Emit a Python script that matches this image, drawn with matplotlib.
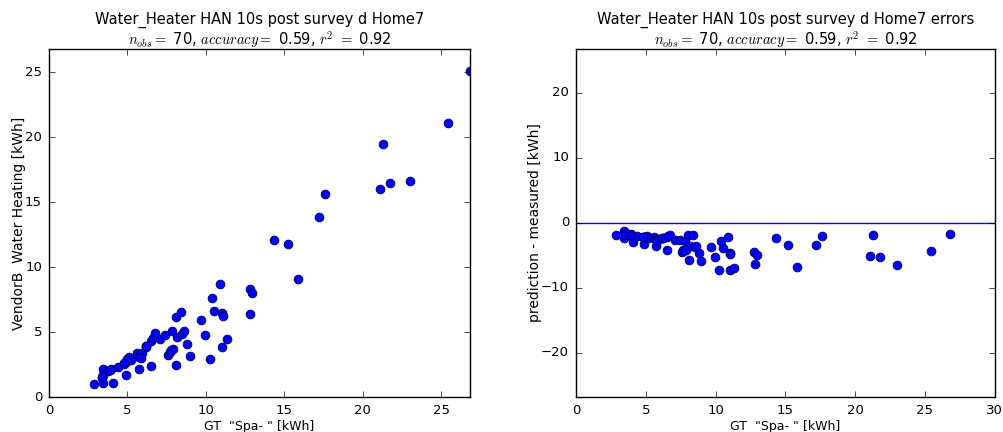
import matplotlib

matplotlib.use("Agg")
import matplotlib.pyplot as plt
import numpy as np

# ground truth vs vendor estimate, kWh per day
gt = [2.88, 3.41, 3.35, 3.46, 3.41, 3.88, 3.96, 3.77, 4.05, 4.37,
      4.77, 4.90, 5.07, 5.20, 4.90, 5.58, 5.71, 5.71, 5.90, 5.83,
      6.17, 6.20, 6.53, 6.60, 6.76, 6.53, 7.06, 7.42, 7.61, 7.70,
      7.87, 7.82, 8.06, 8.38, 8.14, 8.50, 8.60, 8.12, 8.80, 8.99,
      9.69, 9.97, 10.24, 10.37, 10.52, 10.88, 11.00, 11.07, 11.00, 11.32,
      12.79, 12.94, 12.80, 14.33, 15.20, 15.86, 17.22, 17.60, 21.10, 21.30,
      21.75, 23.03, 25.45, 26.80, 3.40, 3.90, 5.00, 6.20, 4.80, 7.80]
pred = [1.00, 2.15, 1.50, 1.67, 1.10, 2.08, 2.18, 2.00, 1.10, 2.33,
        2.54, 2.72, 3.05, 2.85, 1.72, 3.41, 3.05, 2.13, 3.36, 2.97,
        3.92, 3.85, 4.33, 4.56, 4.95, 2.38, 4.49, 4.77, 3.20, 3.49,
        3.67, 5.05, 6.18, 6.54, 4.64, 4.85, 5.08, 2.44, 4.10, 3.15,
        5.95, 4.77, 2.95, 7.64, 6.64, 8.69, 6.44, 6.23, 3.82, 4.44,
        8.33, 7.97, 6.41, 12.08, 11.74, 9.08, 13.85, 15.59, 16.00, 19.45,
        16.46, 16.60, 21.10, 25.10, 1.55, 2.10, 2.90, 3.90, 2.60, 3.60]

title = "Water_Heater HAN 10s post survey d Home7"
stats = r"$n_{obs}=$ 70, $accuracy=$ 0.59, $r^2$ $=$ 0.92"
xlab = 'GT  "Spa- " [kWh]'

plt.style.use("classic")
plt.rcParams["font.family"] = ["DejaVu Sans"]
plt.rcParams["font.size"] = 9.5

gt = np.array(gt)
pred = np.array(pred)
err = pred - gt
lim = max(gt.max(), pred.max())

fig = plt.figure(figsize=(10.04, 4.32), dpi=100, facecolor="white")
ax1 = fig.add_axes([0.0488, 0.081, 0.419, 0.806])
ax2 = fig.add_axes([0.5737, 0.081, 0.417, 0.806])

ax1.plot(gt, pred, "o", color="b", mec="#00005a", mew=0.6, ms=6.3)
ax1.set_xlim(0, lim)
ax1.set_ylim(0, lim)
ax1.set_xticks(range(0, 26, 5))
ax1.set_yticks(range(0, 26, 5))
ax1.set_xlabel(xlab, fontsize=9, labelpad=2)
ax1.set_ylabel("VendorB  Water Heating [kWh]", fontsize=10, labelpad=-1)
ax1.set_title(title + "\n" + stats, fontsize=10.5, pad=3, linespacing=1.1)

ax2.plot(gt, err, "o", color="b", mec="#00005a", mew=0.6, ms=6.3)
ax2.axhline(0, color="b", lw=1)
ax2.set_xlim(0, 30)
ax2.set_ylim(-lim, lim)
ax2.set_xticks(range(0, 31, 5))
ax2.set_yticks([-20, -10, 0, 10, 20])
ax2.set_xlabel(xlab, fontsize=9, labelpad=2)
ax2.set_ylabel("prediction - measured [kWh]", fontsize=10, labelpad=-1)
ax2.set_title(title + " errors\n" + stats, fontsize=10.5, pad=3, linespacing=1.1)

for ax in (ax1, ax2):
    ax.tick_params(labelsize=9.5, pad=5)

fig.savefig("out.png", dpi=100, facecolor="white")
